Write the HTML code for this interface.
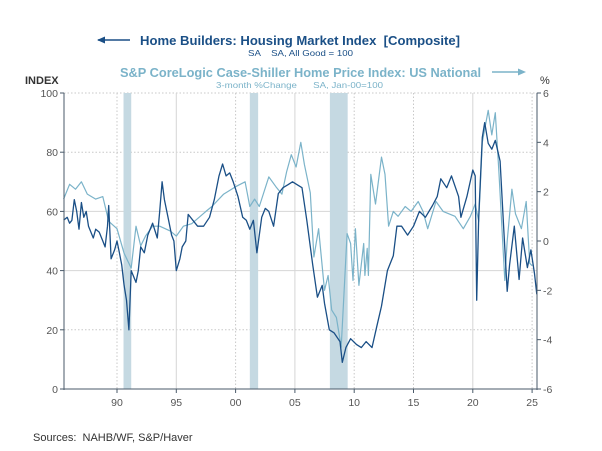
<!DOCTYPE html>
<html><head><meta charset="utf-8">
<style>
html,body{margin:0;padding:0;background:#fff;}
svg{display:block;font-family:"Liberation Sans",sans-serif;}
text{white-space:pre;}
</style></head>
<body>
<svg id="chart" width="602" height="451" viewBox="0 0 602 451">
  <g>
    <line x1="98" y1="40" x2="130" y2="40" stroke="#1a4f86" stroke-width="1.5"/>
    <polygon points="97,40 105,36.5 105,43.5" fill="#1a4f86"/>
    <text x="140" y="45" font-size="13" font-weight="bold" fill="#1a4f86" textLength="320" lengthAdjust="spacingAndGlyphs">Home Builders: Housing Market Index  [Composite]</text>
    <text x="248" y="56" font-size="8.5" fill="#1a4f86" textLength="105" lengthAdjust="spacingAndGlyphs">SA    SA, All Good = 100</text>
    <text x="120" y="77" font-size="13" font-weight="bold" fill="#7bb3c9" textLength="361" lengthAdjust="spacingAndGlyphs">S&amp;P CoreLogic Case-Shiller Home Price Index: US National</text>
    <line x1="492" y1="72" x2="518" y2="72" stroke="#7bb3c9" stroke-width="1.5"/>
    <polygon points="526,72 518,68.5 518,75.5" fill="#7bb3c9"/>
    <text x="216" y="88" font-size="8.5" fill="#7bb3c9" textLength="167" lengthAdjust="spacingAndGlyphs">3-month %Change      SA, Jan-00=100</text>
    <text x="25" y="84" font-size="11" font-weight="bold" fill="#333">INDEX</text>
    <text x="540" y="84" font-size="11" fill="#333">%</text>
  </g>
  <g id="grid"></g>
  <g id="rec"></g>
  <g id="series"></g>
  <g id="axes"></g>
  <text x="33" y="441" font-size="11" fill="#333">Sources:  NAHB/WF, S&amp;P/Haver</text>
</svg>
<script>
const hmiYears = [1985.5,1985.8,1986,1986.2,1986.4,1986.6,1986.8,1987,1987.2,1987.4,1987.6,1987.8,1988,1988.2,1988.5,1988.8,1989,1989.2,1989.3,1989.5,1989.8,1990,1990.2,1990.4,1990.6,1990.8,1991,1991.2,1991.4,1991.6,1991.8,1992,1992.3,1992.6,1993,1993.4,1993.6,1993.8,1994,1994.3,1994.6,1994.8,1995,1995.3,1995.5,1995.8,1996,1996.4,1996.8,1997.3,1997.8,1998.2,1998.6,1998.9,1999.2,1999.5,1999.8,2000.2,2000.6,2000.9,2001.2,2001.5,2001.8,2002.2,2002.5,2002.8,2003.2,2003.6,2004,2004.4,2004.8,2005.2,2005.6,2006,2006.5,2006.9,2007.3,2007.5,2007.9,2008.3,2008.8,2009,2009.3,2009.7,2010.2,2010.6,2011,2011.5,2011.9,2012.3,2012.8,2013.3,2013.6,2014,2014.5,2015,2015.5,2016,2016.6,2017,2017.3,2017.8,2018.2,2018.8,2019,2019.5,2020,2020.2,2020.33,2020.5,2020.8,2021,2021.3,2021.6,2021.9,2022.3,2022.6,2022.9,2023.1,2023.5,2023.9,2024.2,2024.6,2024.9,2025.2,2025.4];
const hmiValues = [57,58,56,57,64,60,54,63,58,60,55,53,51,54,53,50,48,55,62,44,47,50,46,42,35,30,20,40,38,36,40,48,46,52,56,51,60,70,64,58,52,50,40,44,48,50,59,57,55,55,58,64,72,76,72,73,70,65,58,57,54,57,46,58,61,60,55,66,68,69,70,69,68,57,42,31,35,29,20,19,16,9,14,17,15,14,16,14,21,28,40,45,55,55,52,55,60,58,62,65,71,68,72,65,58,65,74,72,30,58,85,90,83,81,84,77,55,33,42,55,37,51,41,47,39,32];
const hpiYears = [1985.5,1986,1986.5,1987,1987.5,1988.2,1988.8,1989.3,1990,1990.6,1991.2,1991.6,1992,1992.4,1993,1993.6,1994.5,1995,1995.6,1996.3,1997.5,1998,1999,2000,2000.8,2001.2,2001.6,2002,2002.8,2003.4,2003.9,2004.3,2004.7,2005.1,2005.5,2005.8,2006.3,2006.6,2007,2007.5,2007.8,2008.1,2008.5,2008.9,2009.4,2009.7,2009.9,2010.1,2010.4,2010.8,2010.9,2011.1,2011.2,2011.4,2011.8,2012.3,2012.6,2012.9,2013.3,2013.7,2014.3,2014.8,2015.4,2015.8,2016.2,2016.9,2017.5,2018.5,2019.2,2019.8,2020.2,2020.5,2020.8,2021.3,2021.6,2021.9,2022.2,2022.7,2022.9,2023.3,2023.6,2024.1,2024.5,2024.8,2025.0];
const hpiValues = [1.7,2.3,2.1,2.4,1.9,1.7,1.8,0.8,0.5,-0.5,-1.1,0.6,-0.2,0.2,0.6,0.6,0.4,0.2,0.6,0.7,1.2,1.4,1.9,2.2,2.4,1.4,1.7,1.4,2.6,2.2,1.9,2.8,3.5,3.0,4.0,3.1,1.95,-0.65,0.5,-2.0,-1.4,-2.8,-3.1,-4.3,0.3,-0.1,-1.6,0.5,-1.8,-0.1,-1.4,-0.3,-1.4,2.7,1.5,3.4,2.7,0.6,1.2,1.0,1.4,1.2,1.6,1.2,0.5,1.6,1.2,1.0,0.5,1.0,1.5,0.8,4.0,5.3,4.3,5.2,2.8,-1.6,0,2.1,1.1,0.5,1.6,-0.9,-1.0];
const recessions = [[1990.55,1991.2],[2001.2,2001.9],[2007.95,2009.45]];
const leftTicks = [0,20,40,60,80,100];
const rightTicks = [-6,-4,-2,0,2,4,6];
const yearTicks = [1990,1995,2000,2005,2010,2015,2020,2025];
const yearLabels = ["90","95","00","05","10","15","20","25"];

const NS="http://www.w3.org/2000/svg";
const X0=64,X1=537,Y0=93,Y1=389;
function xs(y){return 57.7+(y-1985)*11.86;}
function yl(v){return Y1-(v/100)*(Y1-Y0);}
function yr(v){return Y1-((v+6)/12)*(Y1-Y0);}
function mk(tag,attrs,parent){const e=document.createElementNS(NS,tag);for(const k in attrs)e.setAttribute(k,attrs[k]);parent.appendChild(e);return e;}
const grid=document.getElementById('grid'),rec=document.getElementById('rec'),ser=document.getElementById('series'),axes=document.getElementById('axes');

leftTicks.forEach(v=>{
  if(v===0)return;
  const solid=(v===40||v===60);
  const l=mk('line',{x1:X0,x2:X1,y1:yl(v),y2:yl(v),stroke:solid?'#d6d6d6':'#c8c8c8','stroke-width':1,'stroke-dasharray':solid?'':'1.5,2'},grid);
  
  
});
yearTicks.forEach((y,i)=>{
  const solid=(y===1995||y===2005||y===2020);
  const l=mk('line',{x1:xs(y),x2:xs(y),y1:Y0,y2:Y1,stroke:solid?'#d6d6d6':'#c8c8c8','stroke-width':1,'stroke-dasharray':solid?'':'1.5,2'},grid);
  
  
});
recessions.forEach(r=>{
  const b=mk('rect',{x:xs(r[0]),y:Y0,width:xs(r[1])-xs(r[0]),height:Y1-Y0,fill:'#c5d9e2'},rec);
  
  
});
function path(xsArr,vals,sc){return xsArr.map((y,i)=>(i?'L':'M')+xs(y).toFixed(1)+','+sc(vals[i]).toFixed(1)).join('');}
const p2=mk('path',{d:path(hpiYears,hpiValues,yr),fill:'none',stroke:'#7bb3c9','stroke-width':1.2,'stroke-linejoin':'round'},ser);


const p1=mk('path',{d:path(hmiYears,hmiValues,yl),fill:'none',stroke:'#1a4f86','stroke-width':1.3,'stroke-linejoin':'round'},ser);



const ax='#4a5a6a';
const la=mk('line',{x1:X0,x2:X0,y1:Y0,y2:Y1+1,stroke:ax,'stroke-width':1},axes);


const ra=mk('line',{x1:X1,x2:X1,y1:Y0,y2:Y1+1,stroke:ax,'stroke-width':1},axes);


const ba=mk('line',{x1:X0,x2:X1,y1:Y1,y2:Y1,stroke:ax,'stroke-width':1},axes);


leftTicks.forEach(v=>{
  const t=mk('line',{x1:X0-4,x2:X0,y1:yl(v),y2:yl(v),stroke:ax},axes);
  
  
  const tx=mk('text',{x:X0-6,y:yl(v)+4,'text-anchor':'end','font-size':10.5,fill:'#555'},axes);
  tx.textContent=v;
  
  
});
rightTicks.forEach(v=>{
  const t=mk('line',{x1:X1,x2:X1+4,y1:yr(v),y2:yr(v),stroke:ax},axes);
  
  
  const tx=mk('text',{x:X1+6,y:yr(v)+4,'font-size':10.5,fill:'#555'},axes);
  tx.textContent=v;
  
  
});
yearTicks.forEach((y,i)=>{
  const t=mk('line',{x1:xs(y),x2:xs(y),y1:Y1,y2:Y1+4,stroke:ax},axes);
  
  
  const tx=mk('text',{x:xs(y),y:Y1+17,'text-anchor':'middle','font-size':10.5,fill:'#555'},axes);
  tx.textContent=yearLabels[i];
  
  
});
</script>
</body></html>
